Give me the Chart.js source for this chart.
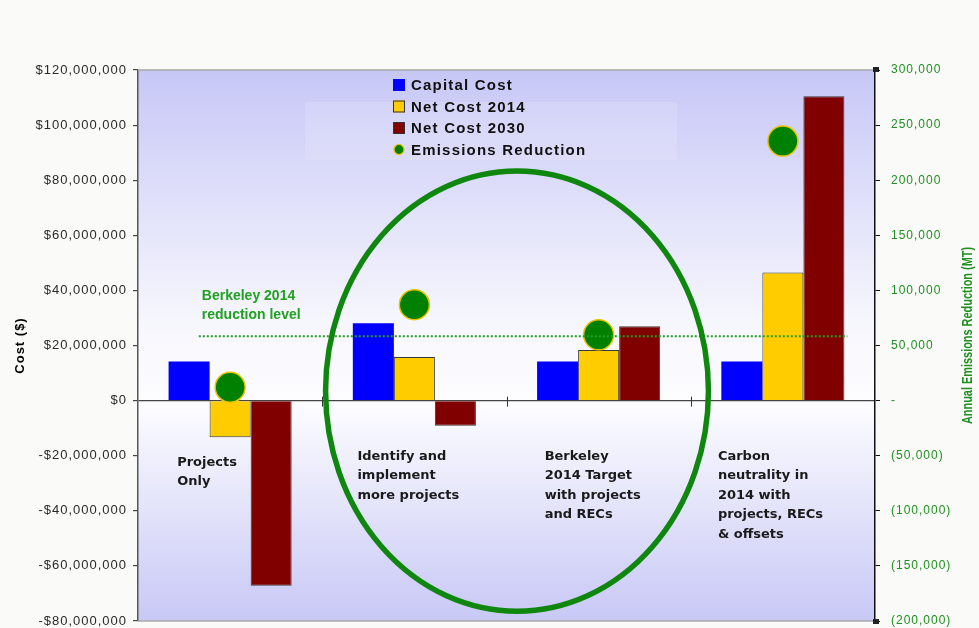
<!DOCTYPE html>
<html>
<head>
<meta charset="utf-8">
<script src="https://cdn.jsdelivr.net/npm/chart.js@4"></script>
<style>
  body { margin: 0; background: #fafbf8; }
  canvas { display: block; }
</style>
</head>
<body>
<canvas id="costChart" width="979" height="628"></canvas>
<script>
// scenarios (drawn as multi-line labels under the zero line)
const categories = [
  ['Projects', 'Only'],
  ['Identify and', 'implement', 'more projects'],
  ['Berkeley', '2014 Target', 'with projects', 'and RECs'],
  ['Carbon', 'neutrality in', '2014 with', 'projects, RECs', '& offsets']
];
const capitalCost = [14200000, 28100000, 14200000, 14200000];
const netCost2014 = [-13300000, 15800000, 18400000, 46500000];
const netCost2030 = [-67200000, -9100000, 27000000, 110500000];
const emissionsReduction = [12100, 87000, 59700, 235500];
const reductionLevel = 58500;

const costRange = [-80000000, 120000000, 20000000];
const emissionRange = [-200000, 300000, 50000];

const fmt = n => n.toLocaleString('en-US');

const green = '#1f8f1f';

// keep the plot box fixed: no extra room for the end tick labels
const fixedWidth = w => s => {
  s.width = w;
  s.paddingTop = 0;
  s.paddingBottom = 0;
};

const decor = {
  id: 'decor',
  beforeUpdate(chart) {
    chart.ctx.letterSpacing = '1px';
  },
  beforeDraw(chart) {
    const { ctx, chartArea: a } = chart;
    ctx.letterSpacing = '1px';
    const g = ctx.createLinearGradient(0, a.top, 0, a.bottom);
    g.addColorStop(0, '#c7c7f7');
    g.addColorStop(0.45, '#f6f6fd');
    g.addColorStop(0.6, '#fdfdff');
    g.addColorStop(1, '#c8c8f6');
    ctx.fillStyle = g;
    ctx.fillRect(a.left, a.top, a.right - a.left, a.bottom - a.top);
    // faint band behind the legend
    ctx.fillStyle = 'rgba(255,255,255,0.14)';
    ctx.fillRect(a.left + 167, a.top + 32, 372, 58);
  },
  afterDatasetsDraw(chart) {
    const { ctx } = chart;
    const x = chart.scales.x, y = chart.scales.y, y1 = chart.scales.y1;
    ctx.save();
    ctx.letterSpacing = '0px';

    // category separators on the zero line
    const zero = y.getPixelForValue(0);
    ctx.strokeStyle = '#333';
    ctx.lineWidth = 1;
    for (let i = 0; i < categories.length - 1; i++) {
      const px = Math.round(x.getPixelForValue(i + 0.5)) + 0.5;
      ctx.beginPath();
      ctx.moveTo(px, zero - 4);
      ctx.lineTo(px, zero + 6);
      ctx.stroke();
    }

    // reduction level line + label
    const ly = y1.getPixelForValue(reductionLevel);
    const lx0 = x.getPixelForValue(-0.17), lx1 = x.getPixelForValue(3.35);
    ctx.strokeStyle = '#22a022';
    ctx.lineWidth = 2;
    ctx.setLineDash([2, 2]);
    ctx.beginPath();
    ctx.moveTo(lx0, ly);
    ctx.lineTo(lx1, ly);
    ctx.stroke();
    ctx.setLineDash([]);
    ctx.fillStyle = '#22a022';
    ctx.font = 'bold 14px "Liberation Sans", Arial, sans-serif';
    ctx.textAlign = 'left';
    ctx.textBaseline = 'middle';
    ctx.fillText('Berkeley 2014', lx0 + 3, ly - 40);
    ctx.fillText('reduction level', lx0 + 3, ly - 21);

    // scenario labels
    const shift = [-53, -57, -54, -65];
    ctx.fillStyle = '#1a1a1a';
    ctx.font = 'bold 13px "DejaVu Sans", Verdana, sans-serif';
    categories.forEach((lines, i) => {
      const x0 = x.getPixelForValue(i) + shift[i];
      const y0 = zero + (i === 0 ? 62 : 56);
      lines.forEach((t, k) => ctx.fillText(t, x0, y0 + k * 19.5));
    });

    // ring around the two middle scenarios
    const cx = x.getPixelForValue(1.557);
    const rx = x.getPixelForValue(1.557 + 1.039) - cx;
    const cy = y.getPixelForValue(3450000);
    const ry = y.getPixelForValue(3450000 - 79900000) - cy;
    ctx.strokeStyle = '#0f870f';
    ctx.lineWidth = 5.5;
    ctx.beginPath();
    ctx.ellipse(cx, cy, rx, ry, 0, 0, Math.PI * 2);
    ctx.stroke();
    ctx.restore();
  },
  afterDraw(chart) {
    const { ctx, chartArea: a, width } = chart;
    ctx.save();
    ctx.letterSpacing = '0px';

    // top / bottom frame
    ctx.strokeStyle = '#a8a8a8';
    ctx.lineWidth = 1.5;
    ctx.beginPath();
    ctx.moveTo(a.left, a.top);
    ctx.lineTo(a.right, a.top);
    ctx.moveTo(a.left, a.bottom);
    ctx.lineTo(a.right, a.bottom);
    ctx.stroke();

    // end caps of the right axis
    ctx.fillStyle = '#222';
    ctx.fillRect(a.right - 2, a.top - 3, 6, 5);
    ctx.fillRect(a.right - 2, a.bottom - 2, 6, 5);

    // right axis title, reading upward, condensed
    ctx.translate(width - 11, (a.top + a.bottom) / 2 - 10);
    ctx.rotate(-Math.PI / 2);
    ctx.scale(0.78, 1);
    ctx.fillStyle = green;
    ctx.font = 'bold 14px "Liberation Sans", Arial, sans-serif';
    ctx.textAlign = 'center';
    ctx.textBaseline = 'middle';
    ctx.fillText('Annual Emissions Reduction (MT)', 0, 0);
    ctx.restore();

    // legend
    ctx.save();
    ctx.letterSpacing = '1.2px';
    ctx.font = 'bold 15px "Liberation Sans", Arial, sans-serif';
    ctx.textAlign = 'left';
    ctx.textBaseline = 'middle';
    const mx = a.left + 255;
    chart.data.datasets.forEach((ds, i) => {
      const ry = a.top + 15 + i * 21.5;
      if (ds.type === 'line') {
        ctx.beginPath();
        ctx.arc(mx + 6, ry, 5, 0, Math.PI * 2);
        ctx.fillStyle = ds.pointBackgroundColor;
        ctx.fill();
        ctx.strokeStyle = ds.pointBorderColor;
        ctx.lineWidth = 1.2;
        ctx.stroke();
      } else {
        ctx.fillStyle = ds.backgroundColor;
        ctx.fillRect(mx, ry - 6, 12, 12);
        if (ds.borderWidth) {
          ctx.strokeStyle = '#333';
          ctx.lineWidth = 1;
          ctx.strokeRect(mx + 0.5, ry - 5.5, 11, 11);
        }
      }
      ctx.fillStyle = '#111';
      ctx.fillText(ds.label, mx + 18, ry + 1);
    });
    ctx.restore();
  }
};

Chart.defaults.font.family = '"Liberation Sans", Arial, sans-serif';

new Chart(document.getElementById('costChart'), {
  type: 'bar',
  data: {
    labels: categories,
    datasets: [
      { label: 'Capital Cost', data: capitalCost, backgroundColor: '#0000ff', borderWidth: 0, yAxisID: 'y' },
      { label: 'Net Cost 2014', data: netCost2014, backgroundColor: '#ffcc00', borderColor: '#3a3a3a', borderWidth: 1, yAxisID: 'y' },
      { label: 'Net Cost 2030', data: netCost2030, backgroundColor: '#800000', borderColor: '#3a3a3a', borderWidth: 1, yAxisID: 'y' },
      {
        type: 'line',
        label: 'Emissions Reduction',
        data: emissionsReduction,
        yAxisID: 'y1',
        showLine: false,
        pointRadius: 15,
        pointBackgroundColor: '#008000',
        pointBorderColor: '#e8c400',
        pointBorderWidth: 1.5,
        order: -1
      }
    ]
  },
  options: {
    responsive: false,
    animation: false,
    devicePixelRatio: 1,
    events: [],
    categoryPercentage: 0.668,
    barPercentage: 1,
    layout: { autoPadding: false, padding: { top: 70, bottom: 7, left: 0, right: 0 } },
    plugins: { legend: { display: false }, tooltip: { enabled: false } },
    scales: {
      x: { display: false, offset: true },
      y: {
        position: 'left',
        min: costRange[0],
        max: costRange[1],
        ticks: {
          stepSize: costRange[2],
          color: '#2a2a2a',
          font: { size: 13 },
          padding: 6,
          callback: v => (v < 0 ? '-$' : '$') + fmt(Math.abs(v))
        },
        grid: {
          color: c => (c.tick && c.tick.value === 0 ? '#444' : 'transparent'),
          tickColor: '#444',
          tickLength: 5,
          lineWidth: 1.2
        },
        border: { color: '#555', width: 1.5 },
        title: {
          display: true,
          text: 'Cost ($)',
          color: '#000',
          font: { size: 13, weight: 'bold' },
          padding: { top: 13 }
        },
        afterFit: fixedWidth(138)
      },
      y1: {
        position: 'right',
        min: emissionRange[0],
        max: emissionRange[1],
        ticks: {
          stepSize: emissionRange[2],
          color: green,
          font: { size: 12 },
          padding: 11,
          callback: v => (v === 0 ? '-' : v < 0 ? '(' + fmt(-v) + ')' : fmt(v))
        },
        grid: { drawOnChartArea: false, tickColor: '#111', tickLength: 5 },
        border: { color: '#111', width: 1.5 },
        afterFit: fixedWidth(104)
      }
    }
  },
  plugins: [decor]
});
</script>
</body>
</html>
